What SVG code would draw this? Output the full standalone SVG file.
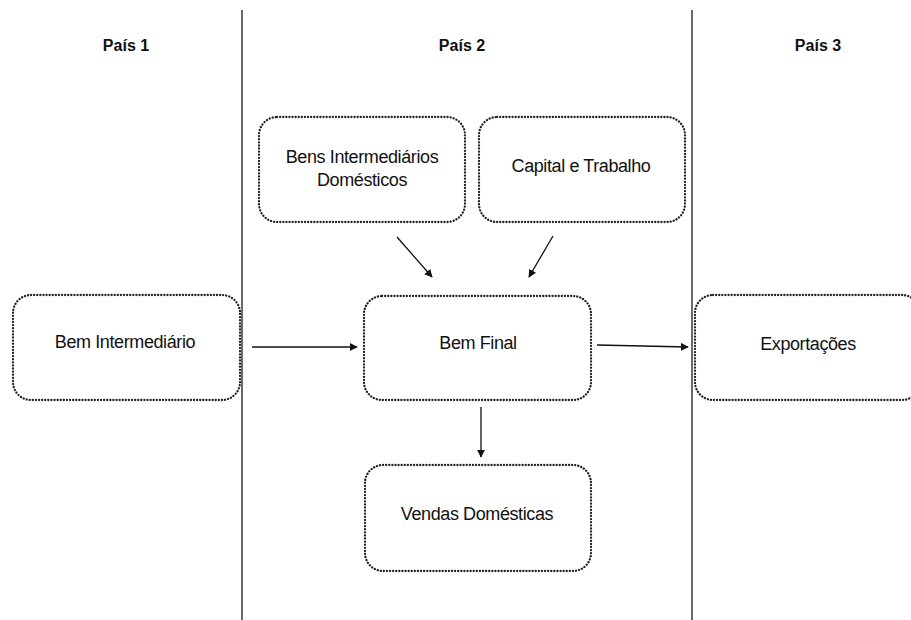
<svg xmlns="http://www.w3.org/2000/svg" width="911" height="620" viewBox="0 0 911 620">
<style>
.box{fill:#fff;stroke:#222;stroke-width:2.3;stroke-dasharray:0.1 3;stroke-linecap:round}
.lbl{font-family:"Liberation Sans",Arial,sans-serif;font-size:18px;letter-spacing:-0.4px;fill:#111;text-anchor:middle}
.hdr{font-family:"Liberation Sans",Arial,sans-serif;font-size:16px;font-weight:bold;fill:#111;text-anchor:middle}
.div{stroke:#444;stroke-width:1.6}
.con{stroke:#111;stroke-width:1.3;fill:none;marker-end:url(#ah)}
</style>
<defs>
<marker id="ah" viewBox="0 0 10 10" refX="9" refY="5" markerWidth="8" markerHeight="8" markerUnits="userSpaceOnUse" orient="auto">
<path d="M0,0 L10,5 L0,10 z" fill="#111"/>
</marker>
</defs>
<rect width="911" height="620" fill="#fff"/>
<g id="dividers">
<line class="div" x1="242" y1="10" x2="242" y2="620"/>
<line class="div" x1="692" y1="10" x2="692" y2="620"/>
</g>
<g id="headers">
<text class="hdr" x="126" y="51">País 1</text>
<text class="hdr" x="462" y="51">País 2</text>
<text class="hdr" x="818" y="51">País 3</text>
</g>
<g id="n-bem-intermediario">
<rect class="box" x="13" y="295" width="227" height="105" rx="18"/>
<text class="lbl" x="125" y="348">Bem Intermediário</text>
</g>
<g id="n-bens-intermediarios-domesticos">
<rect class="box" x="259" y="117" width="206" height="105" rx="18"/>
<text class="lbl" x="362" y="163">Bens Intermediários</text>
<text class="lbl" x="362" y="186">Domésticos</text>
</g>
<g id="n-capital-trabalho">
<rect class="box" x="479" y="117" width="206" height="105" rx="18"/>
<text class="lbl" x="581" y="172">Capital e Trabalho</text>
</g>
<g id="n-bem-final">
<rect class="box" x="364" y="296" width="227" height="104" rx="18"/>
<text class="lbl" x="478" y="349">Bem Final</text>
</g>
<g id="n-exportacoes">
<rect class="box" x="695" y="295" width="225" height="105" rx="18"/>
<text class="lbl" x="808" y="350">Exportações</text>
</g>
<g id="n-vendas-domesticas">
<rect class="box" x="365" y="465" width="226" height="106" rx="18"/>
<text class="lbl" x="477" y="520">Vendas Domésticas</text>
</g>
<g id="connectors">
<line class="con" x1="252" y1="347" x2="357" y2="347"/>
<line class="con" x1="597" y1="345" x2="688" y2="347"/>
<line class="con" x1="397" y1="237" x2="432" y2="277"/>
<line class="con" x1="553" y1="236" x2="529" y2="277"/>
<line class="con" x1="481" y1="407" x2="481" y2="457"/>
</g>
</svg>
